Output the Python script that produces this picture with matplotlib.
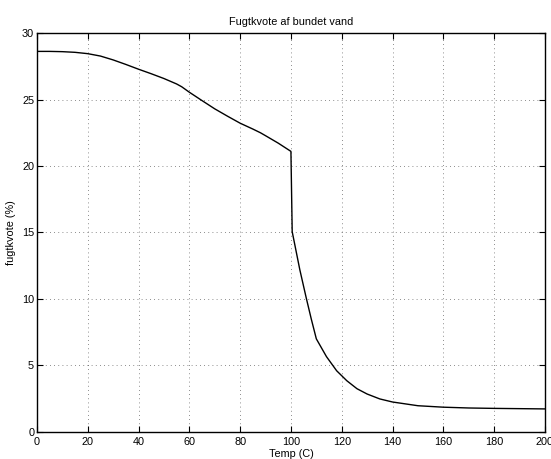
import matplotlib
matplotlib.use("Agg")
import matplotlib.pyplot as plt

plt.rcParams['font.family'] = ['Liberation Sans', 'DejaVu Sans']

temp = [0, 5, 10, 15, 20, 25, 30, 35, 40, 45, 50, 55, 57, 60, 65, 70, 75,
        80, 85, 88, 90, 95, 100, 100.5, 103.5, 106, 108, 110, 114, 118, 122,
        126, 130, 135, 140, 150, 160, 170, 180, 190, 200]
fugt = [28.62, 28.62, 28.6, 28.55, 28.45, 28.27, 27.98, 27.64, 27.28, 26.94,
        26.58, 26.17, 25.96, 25.55, 24.92, 24.3, 23.75, 23.22, 22.78, 22.5,
        22.28, 21.72, 21.1, 15.06, 12.2, 10.1, 8.5, 7.0, 5.66, 4.6, 3.85,
        3.25, 2.85, 2.48, 2.25, 1.97, 1.86, 1.8, 1.77, 1.75, 1.73]

fig = plt.figure(figsize=(5.51, 4.59), dpi=100)
ax = fig.add_axes([0.067, 0.059, 0.922, 0.869])

ax.plot(temp, fugt, color='black', linewidth=1.0)

ax.set_xlim(0, 200)
ax.set_ylim(0, 30)
ax.set_xticks(range(0, 201, 20))
ax.set_yticks(range(0, 31, 5))
ax.grid(True, linestyle=(0, (1, 4)), color='black', linewidth=0.6, alpha=0.6)
ax.tick_params(direction='in', top=True, right=True, labelsize=7.8,
               length=4, width=0.8)
ax.tick_params(axis='x', pad=4)
ax.tick_params(axis='y', pad=2)
for s in ax.spines.values():
    s.set_linewidth(1.0)

ax.set_title('Fugtkvote af bundet vand', fontsize=7.8, pad=6)
ax.set_xlabel('Temp (C)', fontsize=7.8, labelpad=1)
ax.set_ylabel('fugtkvote (%)', fontsize=7.8, labelpad=4)

fig.savefig('out.png', dpi=100)
